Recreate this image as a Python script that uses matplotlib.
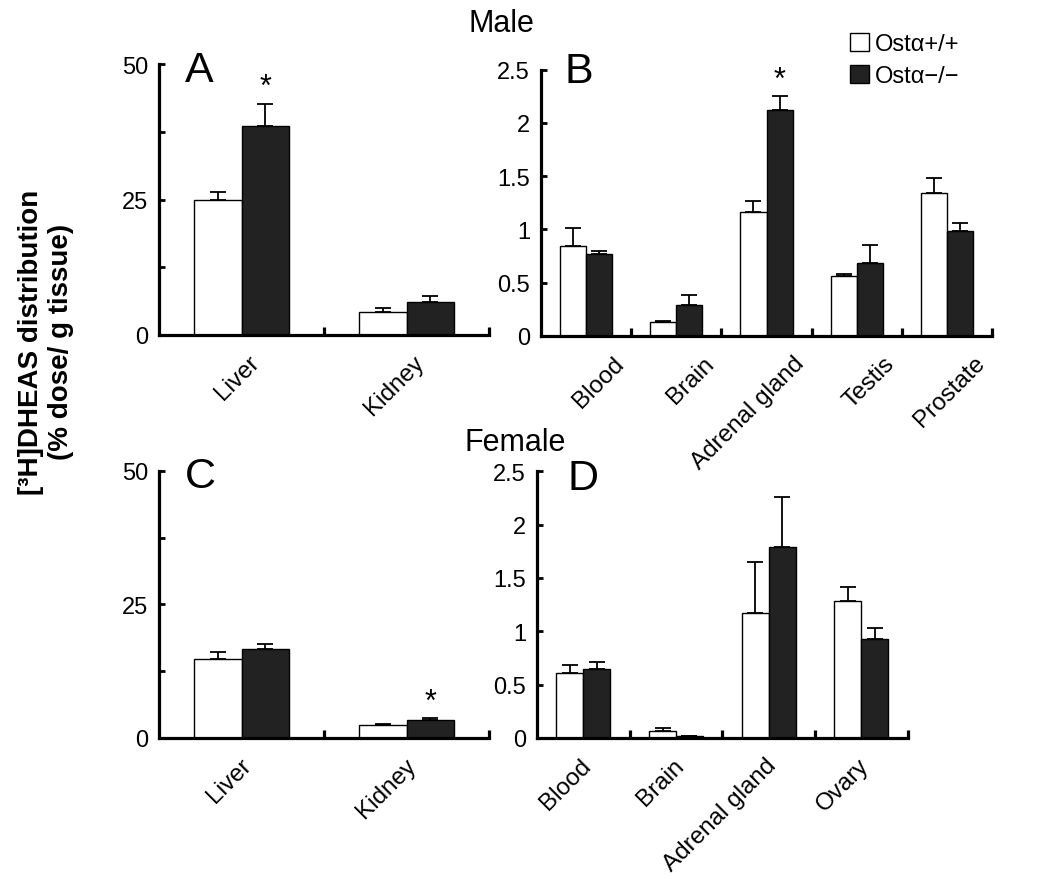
import matplotlib
matplotlib.use('Agg')
import matplotlib.pyplot as plt
import matplotlib.transforms as mtransforms
import numpy as np

plt.rcParams['font.family'] = ['Liberation Sans', 'DejaVu Sans']

# panel A - male liver/kidney
a_organs = ['Liver', 'Kidney']
a_wt = [25.0, 4.3]
a_wt_err = [1.3, 0.6]
a_ko = [38.5, 6.1]
a_ko_err = [4.2, 1.1]
a_star = [True, False]

# panel B - male other tissues
b_organs = ['Blood', 'Brain', 'Adrenal gland', 'Testis', 'Prostate']
b_wt = [0.84, 0.126, 1.16, 0.56, 1.34]
b_wt_err = [0.17, 0.012, 0.11, 0.023, 0.14]
b_ko = [0.77, 0.29, 2.12, 0.68, 0.98]
b_ko_err = [0.025, 0.09, 0.13, 0.17, 0.08]
b_star = [False, False, True, False, False]

# panel C - female liver/kidney
c_organs = ['Liver', 'Kidney']
c_wt = [14.8, 2.43]
c_wt_err = [1.3, 0.17]
c_ko = [16.6, 3.37]
c_ko_err = [1.0, 0.3]
c_star = [False, True]

# panel D - female other tissues
d_organs = ['Blood', 'Brain', 'Adrenal gland', 'Ovary']
d_wt = [0.606, 0.069, 1.17, 1.284]
d_wt_err = [0.078, 0.021, 0.48, 0.13]
d_ko = [0.647, 0.015, 1.79, 0.925]
d_ko_err = [0.063, 0.005, 0.47, 0.105]
d_star = [False, False, False, False]

W, H = 1050, 879
fig = plt.figure(figsize=(W / 100, H / 100), dpi=100)


def px_axes(left, right, bottom, top):
    return fig.add_axes([left / W, 1 - bottom / H, (right - left) / W, (bottom - top) / H])


def panel(ax, organs, wt, wt_err, ko, ko_err, star, ymax, yticks, ylabels, minor, label_dx, letter, lx, ly):
    n = len(organs)
    x = np.arange(n) + 0.5
    w = 0.29
    zeros = [0] * n
    ax.bar(x - w, wt, w, align='edge', color='white', edgecolor='black', linewidth=1.0, zorder=2)
    ax.bar(x, ko, w, align='edge', color='#222222', edgecolor='black', linewidth=1.0, zorder=2)
    ax.errorbar(x - w / 2, wt, yerr=[zeros, wt_err], fmt='none', ecolor='black', elinewidth=1.3,
                capsize=5.5, capthick=1.3, zorder=3)
    ax.errorbar(x + w / 2, ko, yerr=[zeros, ko_err], fmt='none', ecolor='black', elinewidth=1.3,
                capsize=5.5, capthick=1.3, zorder=3)
    for i in range(n):
        if star[i]:
            ax.annotate('*', (x[i] + w / 2, ko[i] + ko_err[i]), xytext=(0, 1), textcoords='offset points',
                        ha='center', va='bottom', fontsize=22)
    ax.set_xlim(0, n)
    ax.set_ylim(0, ymax)
    for s in ['top', 'right']:
        ax.spines[s].set_visible(False)
    for s in ['left', 'bottom']:
        ax.spines[s].set_linewidth(2.3)
    ax.set_yticks(yticks)
    ax.set_yticklabels(ylabels)
    ax.set_yticks(minor, minor=True)
    ax.tick_params(axis='y', which='both', direction='in', length=4, width=2, labelsize=17, pad=8)
    ax.set_xticks(np.arange(1, n + 1))
    ax.tick_params(axis='x', which='major', direction='in', length=6, width=2.3, labelbottom=False)
    offset = mtransforms.ScaledTranslation(label_dx / 100, -16 / 100, fig.dpi_scale_trans)
    for i in range(n):
        ax.text(x[i], 0, organs[i], rotation=45, ha='right', va='top', fontsize=17.5,
                transform=ax.get_xaxis_transform() + offset)
    ax.text(lx, ly, letter, transform=ax.transAxes, fontsize=31, ha='left', va='baseline')
    return ax


ax_a = px_axes(159, 489, 336, 65)
panel(ax_a, a_organs, a_wt, a_wt_err, a_ko, a_ko_err, a_star, 50, [0, 25, 50], ['0', '25', '50'],
      [12.5, 37.5], 22, 'A', 0.079, 0.937)
ax_b = px_axes(541, 992, 336.7, 70.7)
panel(ax_b, b_organs, b_wt, b_wt_err, b_ko, b_ko_err, b_star, 2.5, [0, 0.5, 1, 1.5, 2, 2.5],
      ['0', '0.5', '1', '1.5', '2', '2.5'], [], 42, 'B', 0.053, 0.954)
ax_c = px_axes(159, 489, 739, 471.7)
panel(ax_c, c_organs, c_wt, c_wt_err, c_ko, c_ko_err, c_star, 50, [0, 25, 50], ['0', '25', '50'],
      [12.5, 37.5], 14, 'C', 0.079, 0.939)
ax_d = px_axes(537, 907.7, 739, 472.3)
panel(ax_d, d_organs, d_wt, d_wt_err, d_ko, d_ko_err, d_star, 2.5, [0, 0.5, 1, 1.5, 2, 2.5],
      ['0', '0.5', '1', '1.5', '2', '2.5'], [], 12, 'D', 0.081, 0.934)

# legend for genotype
handles = ax_b.containers[:2]
fig.legend(handles, ['Ost\u03b1+/+', 'Ost\u03b1\u2212/\u2212'], loc='upper left',
           bbox_to_anchor=(850 / W, 1 - 34 / H), frameon=False, fontsize=17,
           handlelength=0.8, handleheight=0.8, handletextpad=0.25, labelspacing=0.4,
           borderpad=0, borderaxespad=0)

fig.text(501 / W, 1 - 24 / H, 'Male', ha='center', va='center', fontsize=22)
fig.text(515 / W, 1 - 443 / H, 'Female', ha='center', va='center', fontsize=22)
fig.text(46 / W, 1 - 342 / H, '[\u00b3H]DHEAS distribution\n(% dose/ g tissue)', rotation=90,
         ha='center', va='center', multialignment='center', fontsize=20, fontweight='bold')

fig.savefig('out.png', dpi=100)
